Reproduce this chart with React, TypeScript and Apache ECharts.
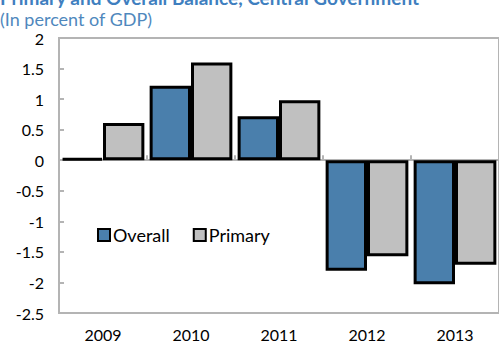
import React, { useEffect, useRef } from "react";
import * as echarts from "echarts";

const categories = ["2009", "2010", "2011", "2012", "2013"];
const overall = [0.03, 1.22, 0.72, -1.81, -2.03];
const primary = [0.61, 1.6, 0.98, -1.57, -1.71];
const titleText = "Primary and Overall Balance, Central Government";
const subtitleText = "(In percent of GDP)";

const FONT = "Lato";

export default function App() {
  const ref = useRef<HTMLDivElement>(null);
  useEffect(() => {
    if (!ref.current) return;
    const chart = echarts.init(ref.current, null, { renderer: "svg" });
    chart.setOption({
      animation: false,
      textStyle: { fontFamily: FONT },
      graphic: [
        {
          type: "text",
          left: 0,
          top: -12,
          style: {
            text: titleText,
            font: `bold 19px ${FONT}`,
            lineHeight: 19,
            fill: "#3f7fbf",
          },
        },
        {
          type: "text",
          left: 0,
          top: 10,
          style: {
            text: subtitleText,
            font: `18px ${FONT}`,
            lineHeight: 18,
            fill: "#4f88bd",
          },
        },
      ],
      legend: {
        left: 92,
        top: 221,
        itemWidth: 12,
        itemHeight: 12,
        itemGap: 23,
        icon: "rect",
        textStyle: { fontSize: 18, color: "#000", fontFamily: FONT, padding: [0, 0, 0, -2] },
        data: ["Overall", "Primary"],
      },
      grid: { left: 59, top: 38, right: -2, bottom: 35, show: true, borderColor: "#b4b4b4", borderWidth: 2 },
      xAxis: [
        {
          type: "category",
          data: categories,
          position: "bottom",
          axisLine: { onZero: false, lineStyle: { color: "#b4b4b4", width: 2 } },
          axisTick: { show: false },
          axisLabel: { color: "#000", fontSize: 16, margin: 13, fontFamily: FONT },
        },
        {
          type: "category",
          data: categories,
          position: "bottom",
          axisLine: { onZero: true, lineStyle: { color: "#b4b4b4", width: 2 } },
          axisTick: { show: true, inside: true, length: 5, lineStyle: { color: "#b4b4b4", width: 2 } },
          axisLabel: { show: false },
        },
      ],
      yAxis: {
        type: "value",
        min: -2.5,
        max: 2,
        interval: 0.5,
        axisLine: { show: true, lineStyle: { color: "#b4b4b4", width: 2 } },
        axisTick: { show: true, inside: true, length: 5, lineStyle: { color: "#b4b4b4", width: 2 } },
        splitLine: { show: false },
        axisLabel: { color: "#000", fontSize: 16, margin: 15, fontFamily: FONT },
      },
      series: [
        {
          name: "Overall",
          type: "bar",
          data: overall,
          barGap: "0%",
          barCategoryGap: "6%",
          itemStyle: { color: "#4a7fac", borderColor: "#000", borderWidth: 3 },
        },
        {
          name: "Primary",
          type: "bar",
          data: primary,
          barGap: "0%",
          barCategoryGap: "6%",
          itemStyle: { color: "#c0c0c0", borderColor: "#000", borderWidth: 3 },
        },
      ],
    });
    return () => chart.dispose();
  }, []);
  return (
    <div
      ref={ref}
      style={{ position: "absolute", left: 0, top: 0, width: 499, height: 348 }}
    />
  );
}
